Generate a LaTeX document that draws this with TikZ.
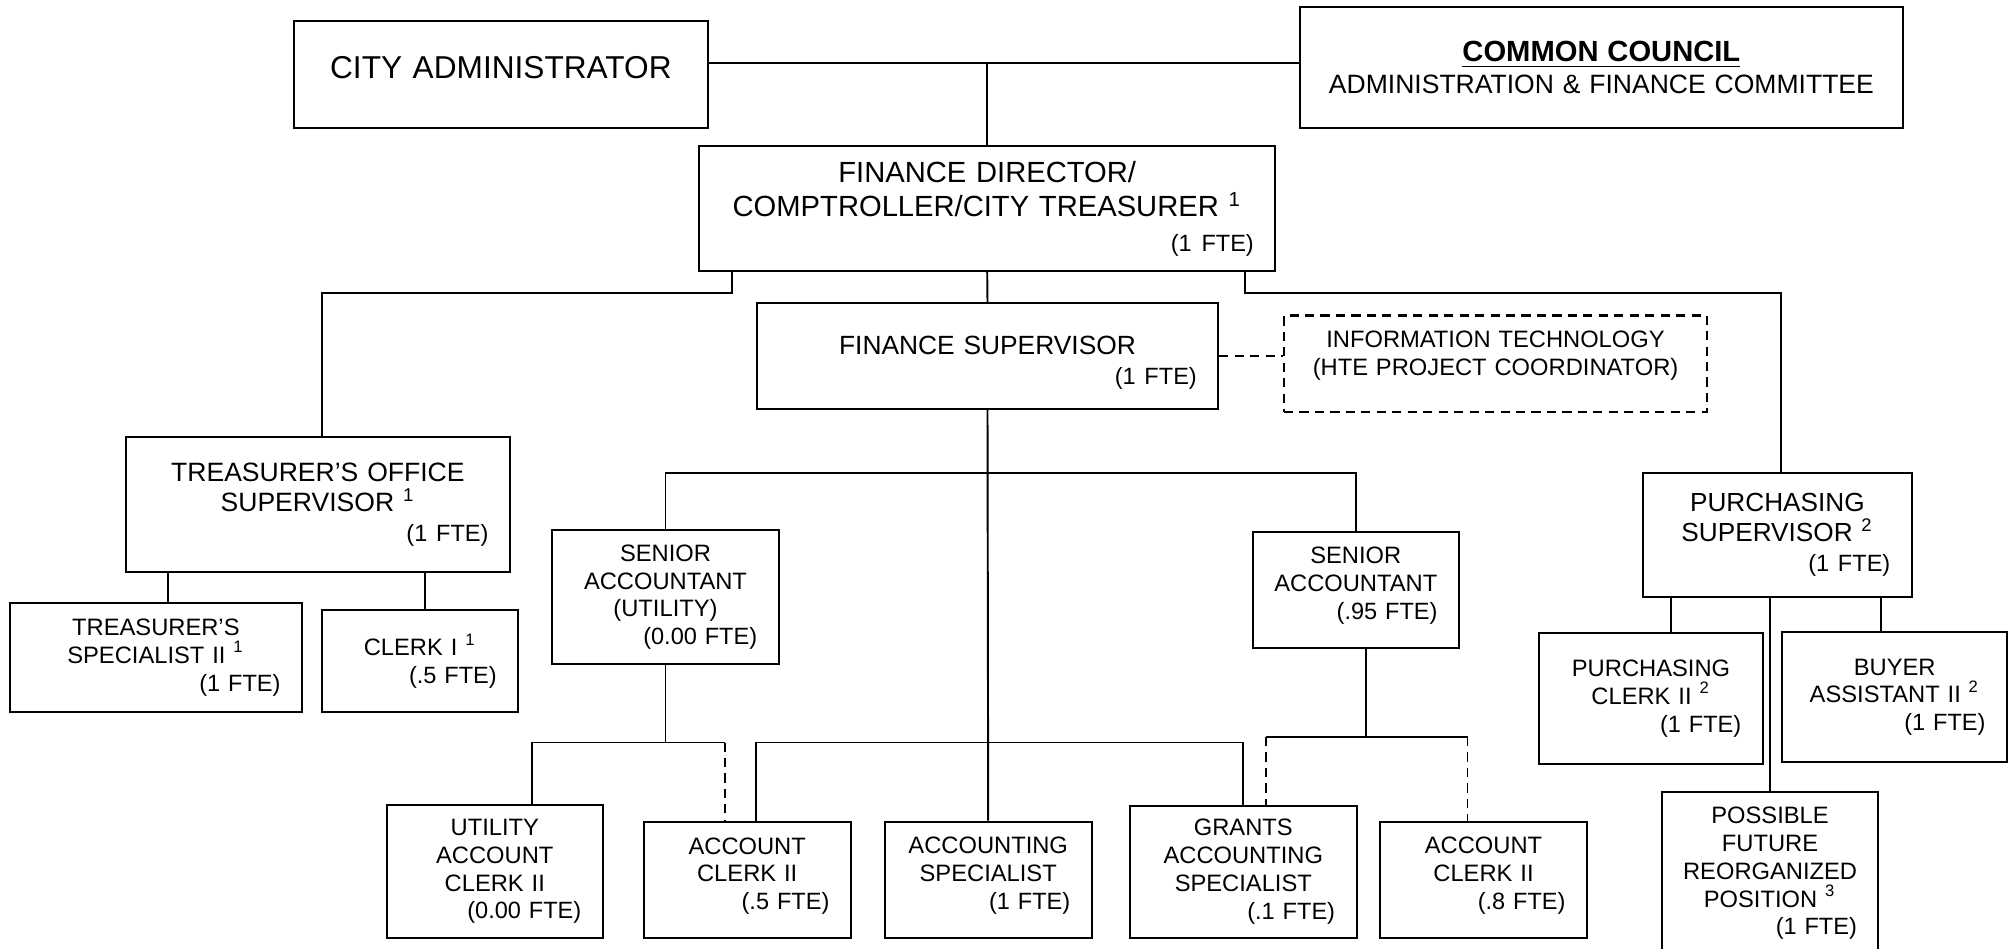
\documentclass[tikz,border=0pt]{standalone}
\usepackage{fontspec}
\setmainfont{Liberation Sans}
\hyphenpenalty=10000
\newcommand{\fte}[1]{\\\fontsize{6.7}{8.2}\selectfont\mbox{}\hskip 0pt plus 1filll(#1 FTE)}

\begin{document}
\begin{tikzpicture}[x=0.1mm,y=-0.1mm,
 post/.style={draw,line width=0.6pt,inner xsep=2.15mm,inner ysep=0pt,align=center,
  font=\fontsize{6.75}{7.9}\selectfont},
 lift/.style={text depth=6.85mm},
 link/.style={line width=0.55pt},
 dashed link/.style={link,dash pattern=on 2.6pt off 1.8pt}]
\useasboundingbox (0,0) rectangle (2015,949);
\clip (0,0) rectangle (2015,949);
% top level
\node[post,text width=37.13mm,minimum height=10.7mm,text depth=1.35mm,font=\fontsize{9}{10.8}\selectfont] (ca) at (500.9,74.2) {CITY ADMINISTRATOR};
\node[post,text width=56.03mm,minimum height=12.04mm,font=\fontsize{7.55}{9.1}\selectfont] (cc) at (1601.4,67.5) {{\fontsize{8.3}{9.1}\selectfont\bfseries\underline{COMMON COUNCIL}}\\ADMINISTRATION \& FINANCE COMMITTEE};
\node[post,text width=53.33mm,minimum height=12.5mm,font=\fontsize{8.3}{9.8}\selectfont] (fd) at (987.2,208.5) {FINANCE DIRECTOR/\\COMPTROLLER/CITY TREASURER \textsuperscript{1}\fte{1}};
\node[post,text width=41.86mm,minimum height=10.6mm,text depth=2.15mm,font=\fontsize{7.5}{8.6}\selectfont] (fs) at (987.5,356) {FINANCE SUPERVISOR\fte{1}};
\node[post,dash pattern=on 2.6pt off 1.8pt,text width=38mm,minimum height=9.65mm,text depth=4.82mm] (it) at (1495.5,363.8) {INFORMATION TECHNOLOGY\\(HTE PROJECT COORDINATOR)};
% middle level
\node[post,text width=34.13mm,minimum height=13.5mm,font=\fontsize{7.55}{8.6}\selectfont] (tos) at (317.9,504.5) {TREASURER’S OFFICE\\SUPERVISOR \textsuperscript{1}\fte{1}};
\node[post,text width=24.92mm,minimum height=10.93mm] (ts) at (155.9,657.4) {TREASURER’S\\SPECIALIST II \textsuperscript{1}\fte{1}};
\node[post,text width=15.34mm,minimum height=10.2mm] (clk) at (420.1,661) {CLERK I \textsuperscript{1}\fte{.5}};
\node[post,text width=18.34mm,minimum height=13.43mm] (sau) at (665.5,597.2) {SENIOR\\ACCOUNTANT\\(UTILITY)\fte{0.00}};
\node[post,lift,text width=16.34mm,minimum height=11.6mm] (sa2) at (1355.8,589.7) {SENIOR\\ACCOUNTANT\fte{.95}};
\node[post,text width=22.58mm,minimum height=12.34mm,font=\fontsize{7.45}{8.5}\selectfont] (ps) at (1777.4,535) {PURCHASING\\SUPERVISOR \textsuperscript{2}\fte{1}};
\node[post,text width=18.05mm,minimum height=13.07mm] (pc2) at (1651,698.7) {PURCHASING\\CLERK II \textsuperscript{2}\fte{1}};
\node[post,text width=18.16mm,minimum height=13.03mm] (ba2) at (1894.7,697.2) {BUYER\\ASSISTANT II \textsuperscript{2}\fte{1}};
% bottom level
\node[post,text width=17.29mm,minimum height=13.27mm] (uac) at (494.8,871.4) {UTILITY\\ACCOUNT\\CLERK II\fte{0.00}};
\node[post,lift,text width=16.43mm,minimum height=11.54mm] (ac2a) at (747.2,880) {ACCOUNT\\CLERK II\fte{.5}};
\node[post,lift,text width=16.42mm,minimum height=11.6mm] (as) at (988.2,879.7) {ACCOUNTING\\SPECIALIST\fte{1}};
\node[post,text width=18.35mm,minimum height=13.2mm] (gas) at (1243.3,871.7) {GRANTS\\ACCOUNTING\\SPECIALIST\fte{.1}};
\node[post,lift,text width=16.4mm,minimum height=11.6mm] (ac2b) at (1483.5,879.7) {ACCOUNT\\CLERK II\fte{.8}};
\node[post,text width=17.38mm,minimum height=16.33mm] (pfrp) at (1770,873.4) {POSSIBLE\\FUTURE\\REORGANIZED\\POSITION \textsuperscript{3}\fte{1}};
% bus levels and offset feet
\coordinate (top) at (0,63);
\coordinate (rowA) at (0,293);
\coordinate (rowB) at (0,473);
\coordinate (rowC) at (0,742.5);
\coordinate (rowD) at (0,737);
\coordinate (fdL) at ([xshift=3.4mm]fd.south west);
\coordinate (fdR) at ([xshift=-3.1mm]fd.south east);
\coordinate (tosT) at ([xshift=0.4mm]tos.north);
\coordinate (psT) at ([xshift=0.4mm]ps.north);
\coordinate (tsT) at ([xshift=1.2mm]ts.north);
\coordinate (clkT) at ([xshift=0.5mm]clk.north);
\coordinate (uacT) at ([xshift=3.7mm]uac.north);
\coordinate (ac2aL) at ([xshift=-2.2mm]ac2a.north);
\coordinate (ac2aR) at ([xshift=0.9mm]ac2a.north);
\coordinate (sa2B) at ([xshift=1mm]sa2.south);
\coordinate (gasR) at ([xshift=2.3mm]gas.north);
\coordinate (ac2bL) at ([xshift=-1.6mm]ac2b.north);
\coordinate (pc2T) at ([xshift=2mm]pc2.north);
\coordinate (ba2T) at ([xshift=-1.4mm]ba2.north);
% connectors
\draw[link] (ca.east |- top) -- (cc.west |- top);
\draw[link] (fd.north |- top) -- (fd.north);
\draw[link] (fdL) |- (tosT |- rowA) -- (tosT);
\draw[link] (fdR) |- (psT |- rowA) -- (psT);
\draw[link] (fd.south) -- (fs.north);
\draw[dashed link] (fs.east) -- (fs.east -| it.west);
\draw[link] (fs.south) -- (as.north);
\draw[link] (sau.north) |- (sa2.north |- rowB) -- (sa2.north);
\draw[link] (tsT) -- (tsT |- tos.south);
\draw[link] (clkT) -- (clkT |- tos.south);
\draw[link] (sau.south) -- (sau.south |- rowC);
\draw[link] (uacT) |- (ac2aL |- rowC);
\draw[dashed link] (ac2aL |- rowC) -- (ac2aL);
\draw[link] (ac2aR) |- (gas.north |- rowC) -- (gas.north);
\draw[link] (sa2B) -- (sa2B |- rowD);
\draw[link] (gasR |- rowD) -- (ac2bL |- rowD);
\draw[dashed link] (gasR |- rowD) -- (gasR);
\draw[dashed link] (ac2bL |- rowD) -- (ac2bL);
\draw[link] (pc2T) -- (pc2T |- ps.south);
\draw[link] (ba2T) -- (ba2T |- ps.south);
\draw[link] (ps.south -| pfrp.north) -- (pfrp.north);
\end{tikzpicture}
\end{document}
